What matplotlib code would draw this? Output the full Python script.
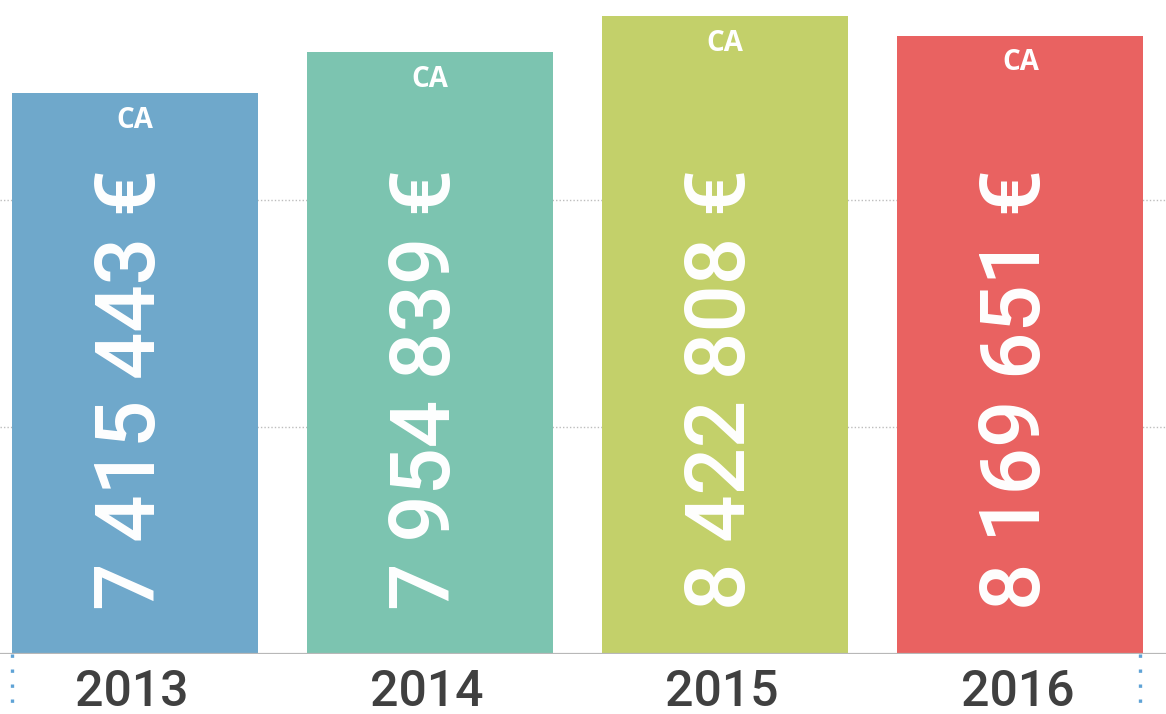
import matplotlib
matplotlib.use("Agg")
import matplotlib.pyplot as plt
import matplotlib.transforms as mtransforms
import numpy as np

years = ["2013", "2014", "2015", "2016"]
revenue = [7415443, 7954839, 8422808, 8169651]
value_labels = ["7 415 443 €", "7 954 839 €", "8 422 808 €", "8 169 651 €"]
bar_label = "CA"
colours = ["#6fa8cb", "#7cc4b0", "#c3d06a", "#e96261"]

fig = plt.figure(figsize=(11.66, 7.14), dpi=100)
ax = fig.add_axes([0, 60 / 714, 1, 654 / 714])

x = np.arange(len(years))
width = 0.833
ax.bar(x, revenue, width=width, color=colours, zorder=2)

ax.set_xlim(-0.4555, 3.493)
ax.set_ylim(0, 8.64e6)

# dotted grid behind bars
for gy in [3e6, 6e6]:
    ax.axhline(gy, color="#bdbdbd", linestyle=(0, (1, 1.5)), linewidth=1.0, zorder=1)
ax.axhline(0, color="#b8b8b8", linewidth=1.6, zorder=3)

# small blue dotted ticks under the outer bar edges
blend = mtransforms.blended_transform_factory(ax.transData, ax.transAxes)
for ex in [x[0] - width / 2, x[-1] + width / 2 - 0.01]:
    ax.plot([ex, ex], [0, -0.095], transform=blend, clip_on=False,
            color="#5fa3d6", linestyle=(0, (1, 3.5)), linewidth=2.4, zorder=3)

for i in range(len(years)):
    ax.text(x[i], revenue[i] - 0.17e6, bar_label, color="white", fontsize=20,
            fontweight="bold", family="Open Sans", ha="center", va="top", zorder=4)
    ax.text(x[i] - 0.01, 0.405, value_labels[i], transform=blend, rotation=90,
            color="white", fontsize=60, fontweight="medium", family="Roboto",
            ha="center", va="center", zorder=4)
    ax.text(x[i] - 0.01, -0.079, years[i], transform=blend, color="#404040",
            fontsize=36, fontweight="medium", family="Roboto",
            ha="center", va="baseline", clip_on=False)

ax.axis("off")
fig.savefig("out.png", dpi=100)
